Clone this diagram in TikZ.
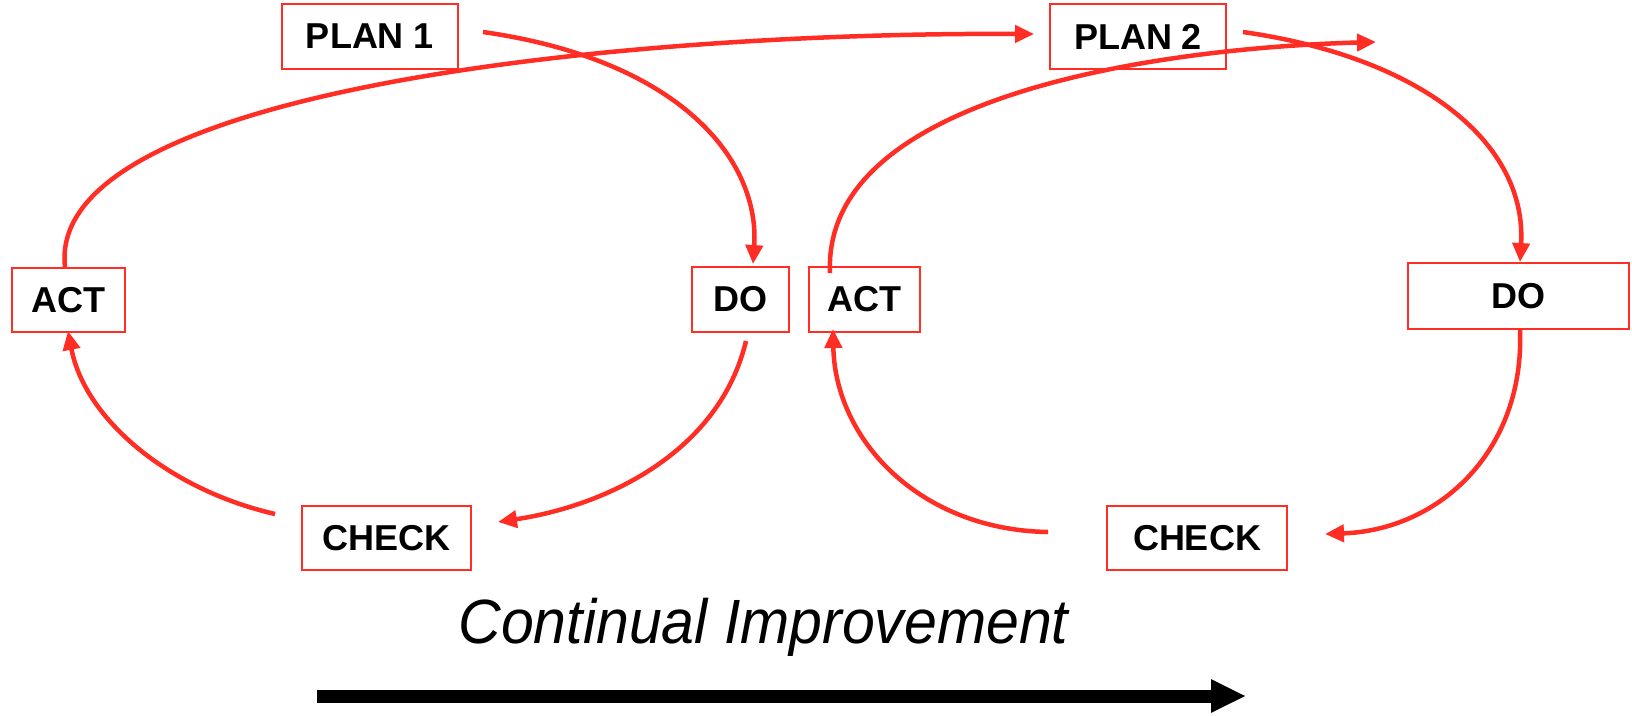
\documentclass[tikz,border=0pt]{standalone}
\usepackage{fontspec}
\setmainfont{Liberation Sans}
\usetikzlibrary{arrows.meta,calc}
\definecolor{pdred}{RGB}{255,45,35}
\begin{document}
\begin{tikzpicture}[x=1pt,y=-1pt,
  box/.style={draw=pdred,line width=1.9pt,inner sep=0pt,
    font=\bfseries\fontsize{36}{40}\selectfont,text=black},
  cyc/.style={draw=pdred,line width=4.5pt,-{Triangle[length=19pt,width=17pt]}}]
\useasboundingbox (0,0) rectangle (1632,715);
% boxes
\node[box,minimum width=176pt,minimum height=65pt] (plan1) at (370,36.5) {PLAN 1};
\node[box,minimum width=176pt,minimum height=65pt] (plan2) at (1138,36.5) {PLAN 2};
\node[box,minimum width=113pt,minimum height=64pt] (act1) at (68.5,300) {ACT};
\node[box,minimum width=97pt,minimum height=65pt] (do1) at (740.5,299.5) {DO};
\node[box,minimum width=111pt,minimum height=65pt] (act2) at (864.5,299.5) {ACT};
\node[box,minimum width=221pt,minimum height=66pt] (do2) at (1518.5,296) {DO};
\node[box,minimum width=169pt,minimum height=64pt] (check1) at (386.5,538) {CHECK};
\node[box,minimum width=180pt,minimum height=64pt] (check2) at (1197,538) {CHECK};
% connector end points
\coordinate (p1out) at ($(plan1.east)+(24,-4.5)$);
\coordinate (do1in) at ($(do1.north)+(12.5,-2)$);
\coordinate (do1out) at ($(do1.south)+(5.5,8)$);
\coordinate (ch1in) at ($(check1.east)+(26,-16)$);
\coordinate (ch1out) at ($(check1.west)+(-26,-24)$);
\coordinate (act1in) at ($(act1.south)+(-0.5,-2)$);
\coordinate (act1out) at ($(act1.north)+(-3.5,0)$);
\coordinate (p2in) at ($(plan2.west)+(-15,-2.5)$);
\coordinate (p2out) at ($(plan2.east)+(16,-4.5)$);
\coordinate (do2in) at ($(do2.north)+(1.5,0)$);
\coordinate (do2out) at ($(do2.south)+(1.5,-1)$);
\coordinate (ch2in) at ($(check2.east)+(37,-4)$);
\coordinate (ch2out) at ($(check2.west)+(-58,-6)$);
\coordinate (act2in) at ($(act2.south)+(-31.5,-4)$);
\coordinate (act2out) at ($(act2.north)+(-34.5,7)$);
\coordinate (cycend) at (1376,42);
% first cycle
\draw[cyc] (p1out) .. controls (680,60) and (760,160) .. (do1in);
\draw[cyc] (do1out) .. controls (720,450) and (610,505) .. (ch1in);
\draw[cyc] (ch1out) .. controls (170,490) and (85,420) .. (act1in);
\draw[cyc] (act1out) .. controls (45,90) and (620,32) .. (p2in);
% second cycle
\draw[cyc] (p2out) .. controls (1425,58) and (1527,145) .. (do2in);
\draw[cyc] (do2out) .. controls (1525,450) and (1440,530) .. (ch2in);
\draw[cyc] (ch2out) .. controls (920,530) and (835,440) .. (act2in);
\draw[cyc] (act2out) .. controls (822,95) and (1160,48) .. (cycend);
% continual improvement
\node[anchor=base,inner sep=0pt,font=\itshape\fontsize{59}{64}\selectfont,yscale=1.06] (ci) at (763.5,643) {Continual Improvement};
\coordinate (ciL) at (317,696);
\coordinate (ciR) at (1246,696);
\draw[line width=13pt,-{Triangle[length=35pt,width=31pt]}] (ciL) -- (ciR);
\end{tikzpicture}
\end{document}
